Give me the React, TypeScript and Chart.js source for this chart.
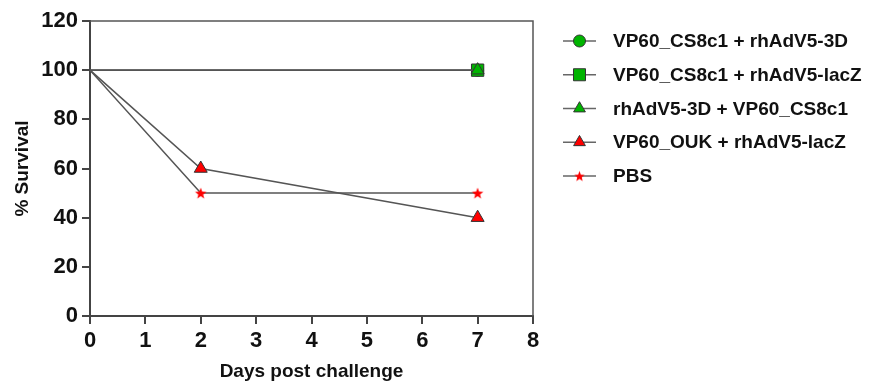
import React, { useEffect, useRef } from 'react';
import { Chart, registerables } from 'chart.js';
import { drawPoint } from 'chart.js/helpers';

Chart.register(...registerables);

const seriesNames = [
  'VP60_CS8c1 + rhAdV5-3D',
  'VP60_CS8c1 + rhAdV5-lacZ',
  'rhAdV5-3D + VP60_CS8c1',
  'VP60_OUK + rhAdV5-lacZ',
  'PBS',
];
const greenDays = [0, 7];
const redDays = [0, 2, 7];
const cs8c1_3D = [100, 100];
const cs8c1_lacZ = [100, 100];
const adv3D_cs8c1 = [100, 100];
const ouk_lacZ = [100, 60, 40];
const pbs = [100, 50, 50];
const xTicks = [0, 1, 2, 3, 4, 5, 6, 7, 8];
const yTicks = [0, 20, 40, 60, 80, 100, 120];

const GREEN = '#00b400';
const RED = '#ff0000';
const LINE = '#555555';
const FONT = '"Liberation Sans", Arial, sans-serif';

function makeStar(R: number): HTMLCanvasElement {
  const c = document.createElement('canvas');
  const s = Math.ceil(R * 2 + 2);
  c.width = s;
  c.height = s;
  const ctx = c.getContext('2d')!;
  ctx.fillStyle = RED;
  ctx.beginPath();
  const cx = s / 2, cy = s / 2 + 0.6, r = R * 0.42;
  for (let i = 0; i < 10; i++) {
    const ang = -Math.PI / 2 + (i * Math.PI) / 5;
    const rad = i % 2 === 0 ? R : r;
    const px = cx + Math.cos(ang) * rad;
    const py = cy + Math.sin(ang) * rad;
    if (i === 0) ctx.moveTo(px, py);
    else ctx.lineTo(px, py);
  }
  ctx.closePath();
  ctx.fill();
  return c;
}

function toPts(xs: number[], ys: number[]) {
  return xs.map((x, i) => ({ x, y: ys[i] }));
}

export default function App() {
  const ref = useRef<HTMLCanvasElement>(null);
  useEffect(() => {
    const star = makeStar(6);
    const legendStar = makeStar(5.5);
    const styles: any[] = ['circle', 'rect', 'triangle', 'triangle', star];
    const legendStyles: any[] = ['circle', 'rect', 'triangle', 'triangle', legendStar];
    const radii = [6, 8.7, 7.5, 7.5, 6];
    const legendRadii = [6, 8.5, 6.8, 6.8, 5.5];
    const fills = [GREEN, GREEN, GREEN, RED, RED];
    const mk = (i: number, xs: number[], ys: number[], order: number) => ({
      label: seriesNames[i],
      data: toPts(xs, ys),
      borderColor: LINE,
      borderWidth: 1.5,
      pointStyle: styles[i],
      pointRadius: xs.map((x) => (x === 0 ? 0 : radii[i])),
      pointHoverRadius: xs.map((x) => (x === 0 ? 0 : radii[i])),
      pointBackgroundColor: fills[i],
      pointBorderColor: '#333333',
      pointBorderWidth: 1,
      tension: 0,
      fill: false,
      order,
    });

    const legendPlugin = {
      id: 'customLegend',
      afterDraw(chart: any) {
        const ctx = chart.ctx;
        ctx.save();
        chart.data.datasets.forEach((ds: any, i: number) => {
          const y = 41 + i * 33.75;
          ctx.strokeStyle = '#666666';
          ctx.lineWidth = 1.5;
          ctx.beginPath();
          ctx.moveTo(563, y);
          ctx.lineTo(596, y);
          ctx.stroke();
          ctx.fillStyle = fills[i];
          ctx.strokeStyle = '#333333';
          ctx.lineWidth = 1;
          drawPoint(ctx, { pointStyle: legendStyles[i], radius: legendRadii[i], borderWidth: 1, rotation: 0 } as any, 579.5, y);
          ctx.fillStyle = '#111111';
          ctx.font = `bold 19px ${FONT}`;
          ctx.textBaseline = 'middle';
          ctx.textAlign = 'left';
          ctx.fillText(ds.label, 613, y + 1);
        });
        // frame: top and right
        const a = chart.chartArea;
        ctx.strokeStyle = '#555555';
        ctx.lineWidth = 1.5;
        ctx.beginPath();
        ctx.moveTo(a.left, a.top);
        ctx.lineTo(a.right, a.top);
        ctx.lineTo(a.right, a.bottom);
        ctx.stroke();
        ctx.restore();
      },
    };

    const chart = new Chart(ref.current!, {
      type: 'line',
      data: {
        datasets: [
          mk(0, greenDays, cs8c1_3D, 4),
          mk(1, greenDays, cs8c1_lacZ, 3),
          mk(2, greenDays, adv3D_cs8c1, 2),
          mk(3, redDays, ouk_lacZ, 1),
          mk(4, redDays, pbs, 0),
        ],
      },
      options: {
        animation: false,
        responsive: false,
        maintainAspectRatio: false,
        layout: { padding: { left: 0, right: 344, top: 21, bottom: 0 } },
        plugins: { legend: { display: false }, tooltip: { enabled: false } },
        scales: {
          x: {
            type: 'linear',
            min: 0,
            max: 8,
            afterBuildTicks: (s: any) => {
              s.ticks = xTicks.map((v) => ({ value: v }));
            },
            afterFit: (s: any) => {
              s.height = 67;
            },
            border: { display: true, color: '#444444', width: 2 },
            grid: { drawOnChartArea: false, drawTicks: true, tickLength: 8, color: '#444444', lineWidth: 2 },
            ticks: {
              color: '#111111',
              padding: 4,
              maxRotation: 0,
              font: { family: FONT, size: 22, weight: 'bold' },
            },
            title: {
              display: true,
              text: 'Days post challenge',
              color: '#111111',
              font: { family: FONT, size: 19, weight: 'bold' },
              padding: { top: 0, bottom: 0 },
            },
          },
          y: {
            type: 'linear',
            min: 0,
            max: 120,
            afterBuildTicks: (s: any) => {
              s.ticks = yTicks.map((v) => ({ value: v }));
            },
            afterFit: (s: any) => {
              s.width = 90;
            },
            border: { display: true, color: '#444444', width: 2 },
            grid: { drawOnChartArea: false, drawTicks: true, tickLength: 8, color: '#444444', lineWidth: 2 },
            ticks: {
              color: '#111111',
              padding: 4,
              font: { family: FONT, size: 22, weight: 'bold' },
            },
            title: {
              display: true,
              text: '% Survival',
              color: '#111111',
              font: { family: FONT, size: 19, weight: 'bold' },
              padding: { top: 11, bottom: 0 },
            },
          },
        },
      },
      plugins: [legendPlugin],
    } as any);
    return () => chart.destroy();
  }, []);
  return (
    <canvas
      ref={ref}
      width={877}
      height={383}
      style={{ position: 'fixed', left: 0, top: 0, width: 877, height: 383, background: '#fff' }}
    />
  );
}
